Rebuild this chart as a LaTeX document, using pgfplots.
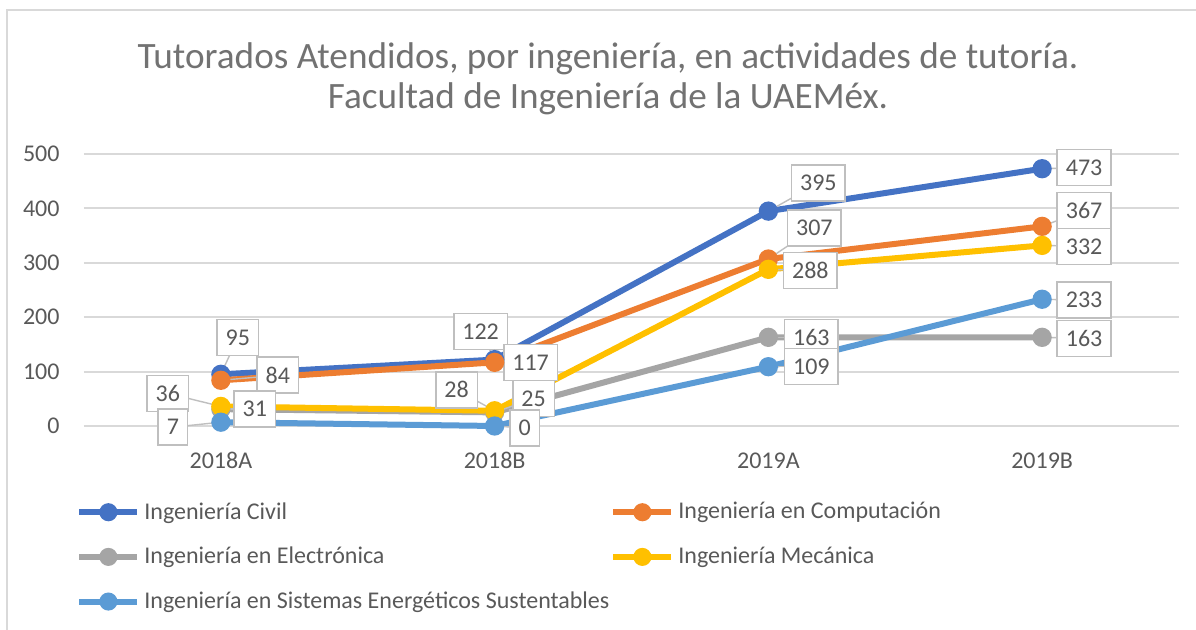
\documentclass[border=0pt]{standalone}
\usepackage{pgfplots}
\pgfplotsset{compat=1.18}
\usepackage{fontspec}
\setmainfont{Carlito}
\definecolor{cCivil}{HTML}{4472C4}
\definecolor{cComp}{HTML}{ED7D31}
\definecolor{cElec}{HTML}{A5A5A5}
\definecolor{cMec}{HTML}{FFC000}
\definecolor{cSis}{HTML}{5B9BD5}
\definecolor{txt}{HTML}{595959}
\definecolor{grd}{HTML}{D9D9D9}
\definecolor{callc}{HTML}{BFBFBF}
\newcommand\lbl[5]{%
  \draw[callc,line width=0.7pt] (axis cs:#1,#2) -- ([xshift=#3,yshift=#4]axis cs:#1,#2);
  \node[draw=callc,line width=0.8pt,fill=white,text=txt,font=\fontsize{12}{13}\selectfont,
        inner xsep=4.3pt,inner ysep=0pt,minimum height=18pt]
        at ([xshift=#3,yshift=#4]axis cs:#1,#2) {#5};}
\begin{document}
\begin{tikzpicture}
\useasboundingbox (-42pt,-102pt) rectangle (556pt,213pt);
\fill[white] (-42pt,-102pt) rectangle (556pt,213pt);
\draw[grd,line width=1pt] (-38.5pt,-102pt) -- (-38.5pt,208pt) -- (556pt,208pt);
\node[text=txt!85,align=center,font=\fontsize{18.6}{20}\selectfont] at (262pt,173.5pt)
  {Tutorados Atendidos, por ingeniería, en actividades de tutoría.\\Facultad de Ingeniería de la UAEMéx.};
\begin{axis}[
  scale only axis,
  width=547.5pt, height=136pt,
  xmin=-0.5, xmax=3.5, ymin=0, ymax=500,
  xtick={0,1,2,3}, xticklabels={2018A,2018B,2019A,2019B},
  ytick={0,100,...,500},
  ymajorgrids, grid style={grd,line width=1pt},
  axis line style={draw=none}, tick style={draw=none},
  ticklabel style={text=txt,font=\fontsize{12}{13}\selectfont},
  /pgf/number format/assume math mode=true,
  xticklabel style={anchor=base,yshift=-21.5pt},
  yticklabel style={anchor=east,xshift=-8.7pt},
  clip=false,
  every axis plot/.append style={line width=3pt, mark=*, mark size=3.3pt, mark options={solid}},
  legend image code/.code={\draw[mark repeat=2,mark phase=2,mark size=3pt] plot coordinates {(0pt,0pt) (14.5pt,0pt) (29pt,0pt)};},
  legend columns=2,
  legend cell align=left,
  legend style={draw=none, fill=none, at={(axis description cs:0,0)}, anchor=north west,
     xshift=-4pt, yshift=-36pt, font=\fontsize{12}{13}\selectfont, text=txt,
     row sep=8.5pt, column sep=0pt, inner sep=0pt},
]
\addplot[cCivil] coordinates {(0,95) (1,122) (2,395) (3,473)};
\addlegendentry{\makebox[231pt][l]{Ingeniería Civil}}
\addplot[cComp] coordinates {(0,84) (1,117) (2,307) (3,367)};
\addlegendentry{Ingeniería en Computación}
\addplot[cElec] coordinates {(0,31) (1,25) (2,163) (3,163)};
\addlegendentry{\makebox[231pt][l]{Ingeniería en Electrónica}}
\addplot[cMec] coordinates {(0,36) (1,28) (2,288) (3,332)};
\addlegendentry{Ingeniería Mecánica}
\addplot[cSis] coordinates {(0,7) (1,0) (2,109) (3,233)};
\addlegendentry{\makebox[231pt][l]{Ingeniería en Sistemas Energéticos Sustentables}}
% data labels
\lbl{0}{84}{28.5pt}{2.5pt}{84}
\lbl{0}{95}{8.5pt}{18.5pt}{95}
\lbl{0}{36}{-26.5pt}{6.5pt}{36}
\lbl{0}{7}{-24pt}{-2.5pt}{7}
\lbl{0}{31}{17pt}{0pt}{31}
\lbl{1}{122}{-7pt}{14pt}{122}
\lbl{1}{117}{18pt}{0pt}{117}
\lbl{1}{28}{-19pt}{10.5pt}{28}
\lbl{1}{25}{19.5pt}{7pt}{25}
\lbl{1}{0}{15pt}{-1pt}{0}
\lbl{2}{395}{25pt}{14pt}{395}
\lbl{2}{307}{23pt}{15.5pt}{307}
\lbl{2}{288}{21pt}{-0.5pt}{288}
\lbl{2}{163}{21.5pt}{0pt}{163}
\lbl{2}{109}{21.5pt}{0pt}{109}
\lbl{3}{473}{21pt}{0.5pt}{473}
\lbl{3}{367}{21pt}{8pt}{367}
\lbl{3}{332}{21pt}{-0.5pt}{332}
\lbl{3}{233}{21pt}{-0.5pt}{233}
\lbl{3}{163}{21pt}{-0.5pt}{163}
\end{axis}
\end{tikzpicture}
\end{document}
